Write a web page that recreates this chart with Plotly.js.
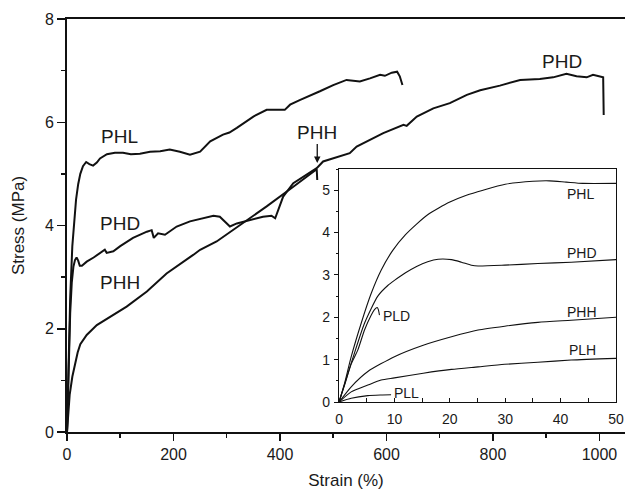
<!DOCTYPE html>
<html>
<head>
<meta charset="utf-8">
<script src="https://cdn.plot.ly/plotly-3.0.1.min.js"></script>
<style>html,body{margin:0;padding:0;background:#fff;}#chart{width:625px;height:493px;}</style>
</head>
<body>
<div id="chart"></div>
<script>
// ---- Main plot data (strain %, stress MPa) ----
const phlStrain = [0,3,6,10,13,17,21,25,30,36,42,49,56,62,75,90,105,120,137,156,175,193,212,231,250,269,293,305,319,335,350,375,409,419,437,475,500,525,550,569,588,597,610,620,625,630];
const phlStress = [0,1.45,2.6,3.6,4.0,4.5,4.8,5.0,5.15,5.23,5.19,5.16,5.22,5.30,5.38,5.41,5.41,5.38,5.39,5.43,5.44,5.47,5.43,5.37,5.43,5.63,5.76,5.80,5.89,6.0,6.11,6.24,6.24,6.34,6.43,6.60,6.72,6.82,6.79,6.85,6.92,6.90,6.96,6.98,6.89,6.72];

const phdStrain = [0,3,6,9,12,15,18,21,24,28,37,50,62,68,71,74.5,87,100,118,124,150,159,163,171,184,206,231,256,275,287,306,319,344,368,384,391,406,425,469,481,531,544,594,632,638,657,688,719,751,776,813,851,888,913,938,957,976,988,1007,1008];
const phdStress = [0,1.35,2.3,2.9,3.2,3.33,3.38,3.32,3.22,3.22,3.30,3.38,3.47,3.50,3.53,3.47,3.50,3.60,3.72,3.76,3.88,3.91,3.76,3.85,3.82,3.98,4.08,4.14,4.19,4.17,3.98,4.04,4.11,4.17,4.19,4.14,4.56,4.82,5.11,5.24,5.40,5.53,5.79,5.95,5.93,6.11,6.27,6.37,6.53,6.62,6.71,6.82,6.84,6.87,6.94,6.89,6.87,6.92,6.87,6.14];

const phhStrain = [0,2,5,10,15,20,25,37,56,81,112,150,187,237,250,281,312,375,425,469,470];
const phhStress = [0,0.33,0.72,1.07,1.34,1.54,1.70,1.88,2.07,2.23,2.43,2.72,3.07,3.43,3.53,3.69,3.91,4.37,4.75,5.09,4.88];

// ---- Inset data (strain %, stress MPa) ----
const iPhlStrain = [0,1,2.2,4,5.8,7.6,9.7,12,14,16,18,20,23,26,30,35,38,41,44,50];
const iPhlStress = [0,0.44,1.07,1.86,2.56,3.11,3.58,3.95,4.2,4.42,4.58,4.72,4.88,5.0,5.14,5.21,5.22,5.19,5.16,5.16];

const iPhdStrain = [0,1,2.4,4.6,7,8.8,10,12,14,16,17.9,20.3,22.1,23.9,25.1,29.9,35.9,41.9,50];
const iPhdStress = [0,0.42,1.0,1.86,2.5,2.75,2.87,3.05,3.2,3.31,3.37,3.36,3.30,3.23,3.21,3.23,3.27,3.30,3.36];

const iPldStrain = [0,1,2.2,3.4,4.6,5.8,6.4,6.9,7.1,7.3];
const iPldStress = [0,0.4,0.9,1.23,1.70,2.05,2.18,2.23,2.18,2.05];

const iPhhStrain = [0,2.2,5.2,10,15.2,20.3,25.1,29.9,35.9,41.9,50];
const iPhhStress = [0,0.36,0.72,1.07,1.34,1.54,1.70,1.79,1.88,1.93,2.0];

const iPlhStrain = [0,2.2,5.2,7.6,10,15.2,20.3,25.1,29.9,35.9,41.9,50];
const iPlhStress = [0,0.24,0.40,0.52,0.57,0.68,0.77,0.83,0.89,0.94,0.99,1.03];

const iPllStrain = [0,2.2,5.2,7.6,9.4];
const iPllStress = [0,0.09,0.15,0.165,0.17];

// ---- Labels ----
const mainLabels = [
  {text:'PHL', x:99.5, y:5.73},
  {text:'PHD', x:99.5, y:4.03},
  {text:'PHH', x:99.5, y:2.89},
  {text:'PHD', x:929, y:7.17}
];
const insetLabels = [
  {text:'PHL', x:43.6, y:4.90},
  {text:'PHD', x:43.9, y:3.51},
  {text:'PLD', x:10.3, y:2.04},
  {text:'PHH', x:43.9, y:2.13},
  {text:'PLH', x:43.9, y:1.23},
  {text:'PLL', x:12.1, y:0.21}
];
const arrowLabel = {text:'PHH', x:470, y:5.21};

const FONT = 'Liberation Sans, Arial, Helvetica, sans-serif';
const INK = '#111';

function mainTrace(x, y) {
  return {x:x, y:y, type:'scatter', mode:'lines', xaxis:'x', yaxis:'y',
          line:{color:INK, width:2}, hoverinfo:'skip', showlegend:false};
}
function insetTrace(x, y) {
  return {x:x, y:y, type:'scatter', mode:'lines', xaxis:'x2', yaxis:'y2',
          line:{color:INK, width:1.1, shape:'spline', smoothing:0.6}, hoverinfo:'skip', showlegend:false};
}

const data = [
  mainTrace(phlStrain, phlStress),
  mainTrace(phdStrain, phdStress),
  mainTrace(phhStrain, phhStress),
  insetTrace(iPhlStrain, iPhlStress),
  insetTrace(iPhdStrain, iPhdStress),
  insetTrace(iPldStrain, iPldStress),
  insetTrace(iPhhStrain, iPhhStress),
  insetTrace(iPlhStrain, iPlhStress),
  insetTrace(iPllStrain, iPllStress)
];

const annotations = [];
mainLabels.forEach(l => annotations.push({text:l.text, x:l.x, y:l.y, xref:'x', yref:'y',
  showarrow:false, font:{family:FONT, size:19, color:'#1a1a1a'}}));
insetLabels.forEach(l => annotations.push({text:l.text, x:l.x, y:l.y, xref:'x2', yref:'y2',
  showarrow:false, font:{family:FONT, size:14, color:'#1a1a1a'}}));
annotations.push({text:arrowLabel.text, x:arrowLabel.x, y:arrowLabel.y, xref:'x', yref:'y',
  showarrow:true, ax:0, ay:-31, arrowhead:2, arrowsize:1, arrowwidth:1.3, arrowcolor:INK,
  font:{family:FONT, size:19, color:'#1a1a1a'}});

const layout = {
  width:625, height:493,
  margin:{l:67, r:0, t:19, b:61},
  paper_bgcolor:'#fff', plot_bgcolor:'rgba(0,0,0,0)',
  font:{family:FONT, color:'#1a1a1a'},
  showlegend:false,
  xaxis:{domain:[0,1], range:[0,1048], showgrid:false, zeroline:false,
    showline:true, linecolor:INK, linewidth:1.6, mirror:true,
    ticks:'outside', ticklen:7, tickwidth:1.5, tickcolor:INK, dtick:200, tick0:0,
    minor:{ticks:'outside', ticklen:4, dtick:100, tickwidth:1.5, tickcolor:INK},
    tickfont:{family:FONT, size:16, color:'#1a1a1a'},
    title:{text:'Strain (%)', font:{family:FONT, size:17, color:'#1a1a1a'}, standoff:12}},
  yaxis:{domain:[0,1], range:[0,8], showgrid:false, zeroline:false,
    showline:true, linecolor:INK, linewidth:2,
    ticks:'outside', ticklen:8, tickwidth:1.5, tickcolor:INK, dtick:2, tick0:0,
    minor:{ticks:'outside', ticklen:4, dtick:1, tickwidth:1.5, tickcolor:INK},
    tickfont:{family:FONT, size:16, color:'#1a1a1a'},
    title:{text:'Stress (MPa)', font:{family:FONT, size:17, color:'#1a1a1a'}, standoff:16}},
  xaxis2:{domain:[0.4875,0.9839], anchor:'y2', range:[0,50], showgrid:false, zeroline:false,
    showline:true, linecolor:INK, linewidth:1.3, mirror:true,
    ticks:'inside', ticklen:4, tickwidth:1, tickcolor:INK, dtick:10, tick0:0,
    minor:{ticks:'inside', ticklen:4, dtick:5, tickwidth:1, tickcolor:INK},
    tickfont:{family:FONT, size:14, color:'#1a1a1a'}, ticklabelstandoff:4},
  yaxis2:{domain:[0.0726,0.6368], anchor:'x2', range:[0,5.5], showgrid:false, zeroline:false,
    showline:true, linecolor:INK, linewidth:1.3, mirror:true,
    ticks:'outside', ticklen:4, tickwidth:1, tickcolor:INK, dtick:1, tick0:0,
    minor:{ticks:'outside', ticklen:2, dtick:0.5, tickwidth:1, tickcolor:INK},
    tickfont:{family:FONT, size:14, color:'#1a1a1a'}, ticklabelstandoff:1},
  shapes:[{type:'rect', xref:'x2 domain', yref:'y2 domain', x0:0, x1:1, y0:0, y1:1,
    fillcolor:'#fff', line:{width:0}, layer:'below'}],
  annotations:annotations
};

Plotly.newPlot('chart', data, layout, {displayModeBar:false, staticPlot:true});
</script>
</body>
</html>
